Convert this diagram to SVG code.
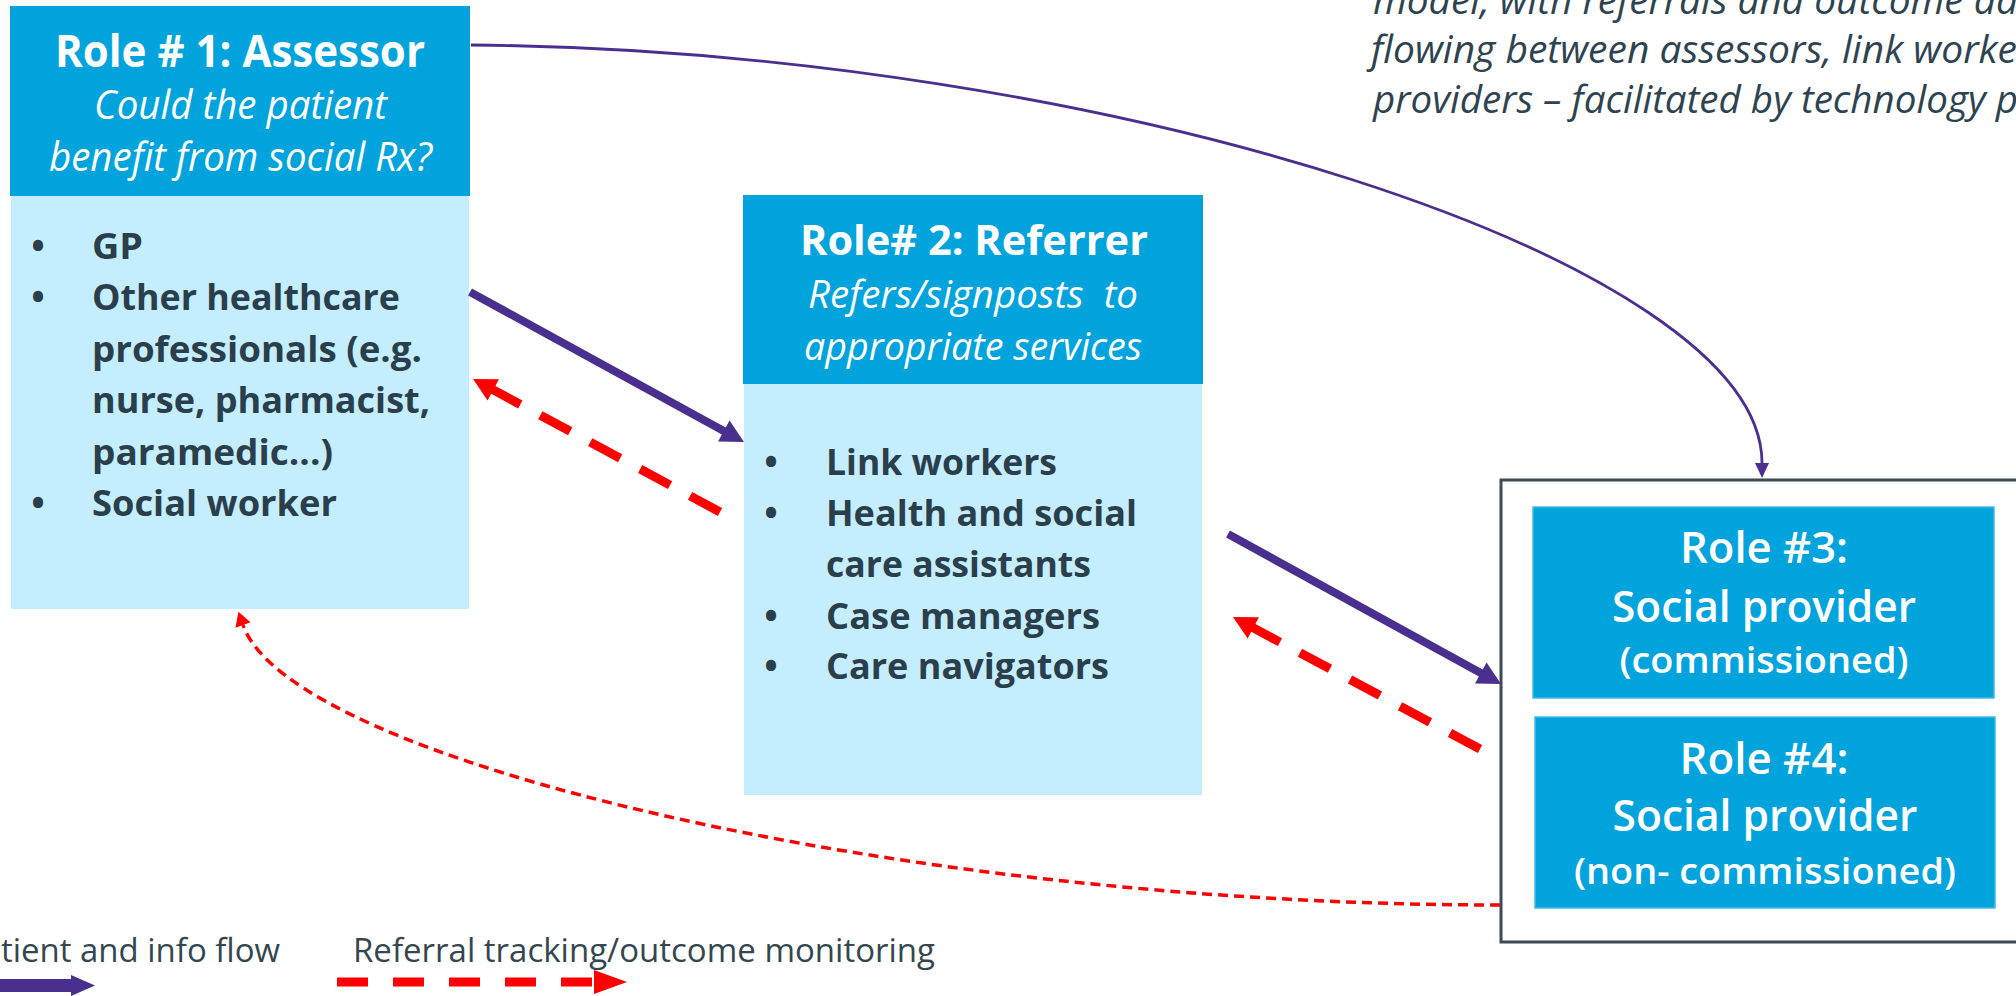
<svg xmlns="http://www.w3.org/2000/svg" width="2016" height="996" viewBox="0 0 2016 996">
  <style>
    .hdr { fill: #00a3dc; }
    .panel { fill: #c4eefd; }
    .prov { fill: #00a3dc; stroke: #45b9e6; stroke-width: 1.5; }
    .frame { fill: none; stroke: #3d4b55; stroke-width: 3; }
    .sans { font-family: "Open Sans", "Noto Sans", "Liberation Sans", sans-serif; }
    .title { font-weight: 700; fill: #ffffff; }
    .sub { font-style: italic; font-weight: 400; fill: #ffffff; }
    .item { font-weight: 700; fill: #2b3e4b; font-size: 36px; }
    .ptext { font-weight: 600; fill: #ffffff; }
    .note { font-style: italic; font-weight: 400; fill: #2e4350; font-size: 38px; }
    .legend { font-weight: 400; fill: #34464f; font-size: 32px; }
    .flow { fill: none; stroke: #4a2f8e; stroke-width: 8; }
    .track { fill: none; stroke: #ff0000; stroke-width: 9; stroke-dasharray: 34 22.7; }
    .flow-thin { fill: none; stroke: #4a2f8e; stroke-width: 2.8; }
    .track-thin { fill: none; stroke: #ff0000; stroke-width: 3.5; stroke-dasharray: 10 6; }
  </style>
  <defs>
    <marker id="headFlow" markerUnits="userSpaceOnUse" viewBox="0 0 23 24" markerWidth="23" markerHeight="24" refX="1" refY="12" orient="auto" overflow="visible">
      <path d="M0,0 L23,12 L0,24 z" fill="#4a2f8e"/>
    </marker>
    <marker id="headTrack" markerUnits="userSpaceOnUse" viewBox="0 0 23 24" markerWidth="23" markerHeight="24" refX="1" refY="12" orient="auto" overflow="visible">
      <path d="M0,0 L23,12 L0,24 z" fill="#ff0000"/>
    </marker>
    <marker id="headFlowThin" markerUnits="userSpaceOnUse" viewBox="0 0 15 14" markerWidth="15" markerHeight="14" refX="0" refY="7" orient="auto" overflow="visible">
      <path d="M0,0 L15,7 L0,14 z" fill="#4a2f8e"/>
    </marker>
    <marker id="headTrackThin" markerUnits="userSpaceOnUse" viewBox="0 0 14 16" markerWidth="14" markerHeight="16" refX="0" refY="8" orient="auto" overflow="visible">
      <path d="M0,0 L14,8 L0,16 z" fill="#ff0000"/>
    </marker>
  </defs>

  <rect width="2016" height="996" fill="#ffffff"/>

  <!-- explanatory note, top right (runs off the page edge) -->
  <g id="note" class="sans note">
    <text x="1373" y="14" textLength="645" lengthAdjust="spacingAndGlyphs">model, with referrals and outcome da</text>
    <text x="1371" y="63" textLength="646" lengthAdjust="spacingAndGlyphs">flowing between assessors, link worke</text>
    <text x="1373" y="113" textLength="645" lengthAdjust="spacingAndGlyphs">providers – facilitated by technology p</text>
  </g>

  <!-- Role 1: assessor -->
  <g id="node-assessor" class="sans">
    <rect class="panel" x="11" y="196" width="458" height="413"/>
    <rect class="hdr" x="10" y="6" width="460" height="190"/>
    <text class="title" x="240" y="67" font-size="44" text-anchor="middle" textLength="370" lengthAdjust="spacingAndGlyphs">Role # 1: Assessor</text>
    <text class="sub" x="240.5" y="119" font-size="40" text-anchor="middle" textLength="293" lengthAdjust="spacingAndGlyphs">Could the patient</text>
    <text class="sub" x="240.5" y="171" font-size="40" text-anchor="middle" textLength="383" lengthAdjust="spacingAndGlyphs">benefit from social Rx?</text>
    <g class="item">
      <text x="38" y="259" text-anchor="middle">•</text>
      <text x="92" y="259" textLength="51" lengthAdjust="spacingAndGlyphs">GP</text>
      <text x="38" y="310" text-anchor="middle">•</text>
      <text x="92" y="310" textLength="308" lengthAdjust="spacingAndGlyphs">Other healthcare</text>
      <text x="92" y="362" textLength="330" lengthAdjust="spacingAndGlyphs">professionals (e.g.</text>
      <text x="92" y="413" textLength="338" lengthAdjust="spacingAndGlyphs">nurse, pharmacist,</text>
      <text x="92" y="465" textLength="241" lengthAdjust="spacingAndGlyphs">paramedic...)</text>
      <text x="38" y="516" text-anchor="middle">•</text>
      <text x="92" y="516" textLength="245" lengthAdjust="spacingAndGlyphs">Social worker</text>
    </g>
  </g>

  <!-- Role 2: referrer -->
  <g id="node-referrer" class="sans">
    <rect class="panel" x="744" y="384" width="458" height="411"/>
    <rect class="hdr" x="743" y="195" width="460" height="189"/>
    <text class="title" x="974" y="255" font-size="42" text-anchor="middle" textLength="348" lengthAdjust="spacingAndGlyphs">Role# 2: Referrer</text>
    <text class="sub" x="973" y="308" font-size="38" text-anchor="middle" textLength="330" lengthAdjust="spacingAndGlyphs" xml:space="preserve">Refers/signposts  to</text>
    <text class="sub" x="973" y="360" font-size="38" text-anchor="middle" textLength="338" lengthAdjust="spacingAndGlyphs">appropriate services</text>
    <g class="item">
      <text x="771" y="475" text-anchor="middle">•</text>
      <text x="826" y="475" textLength="231" lengthAdjust="spacingAndGlyphs">Link workers</text>
      <text x="771" y="526" text-anchor="middle">•</text>
      <text x="826" y="526" textLength="311" lengthAdjust="spacingAndGlyphs">Health and social</text>
      <text x="826" y="577" textLength="265" lengthAdjust="spacingAndGlyphs">care assistants</text>
      <text x="771" y="629" text-anchor="middle">•</text>
      <text x="826" y="629" textLength="274" lengthAdjust="spacingAndGlyphs">Case managers</text>
      <text x="771" y="679" text-anchor="middle">•</text>
      <text x="826" y="679" textLength="283" lengthAdjust="spacingAndGlyphs">Care navigators</text>
    </g>
  </g>

  <!-- social providers container -->
  <g id="node-providers">
    <rect class="frame" x="1501" y="480" width="620" height="462"/>
  </g>

  <!-- Role 3: commissioned social provider -->
  <g id="node-provider-commissioned" class="sans">
    <rect class="prov" x="1533" y="507" width="461" height="191"/>
    <text class="ptext" x="1764" y="563" font-size="43" text-anchor="middle" textLength="168" lengthAdjust="spacingAndGlyphs">Role #3:</text>
    <text class="ptext" x="1764" y="622" font-size="43" text-anchor="middle" textLength="304" lengthAdjust="spacingAndGlyphs">Social provider</text>
    <text class="ptext" x="1764" y="673" font-size="36" text-anchor="middle" textLength="289" lengthAdjust="spacingAndGlyphs">(commissioned)</text>
  </g>

  <!-- Role 4: non-commissioned social provider -->
  <g id="node-provider-noncommissioned" class="sans">
    <rect class="prov" x="1535" y="717" width="460" height="191"/>
    <text class="ptext" x="1764" y="774" font-size="43" text-anchor="middle" textLength="169" lengthAdjust="spacingAndGlyphs">Role #4:</text>
    <text class="ptext" x="1765" y="831" font-size="43" text-anchor="middle" textLength="305" lengthAdjust="spacingAndGlyphs">Social provider</text>
    <text class="ptext" x="1765" y="884" font-size="36" text-anchor="middle" textLength="382" lengthAdjust="spacingAndGlyphs">(non- commissioned)</text>
  </g>

  <!-- connectors -->
  <g id="connectors">
    <path class="flow" d="M470,292 L724.7,431.4" marker-end="url(#headFlow)"/>
    <path class="track" d="M720,512 L492.4,389.4" marker-end="url(#headTrack)"/>
    <path class="flow" d="M1228,534 L1481.7,673.4" marker-end="url(#headFlow)"/>
    <path class="track" d="M1480,749 L1252.4,627.4" marker-end="url(#headTrack)"/>
    <path class="flow-thin" d="M471,45 C1100,50 1762,260 1762,463" marker-end="url(#headFlowThin)"/>
    <path class="track-thin" d="M1500,905 C900,905 290,760 243,625" marker-end="url(#headTrackThin)"/>
  </g>

  <!-- legend -->
  <g id="legend" class="sans legend">
    <text x="1" y="962" textLength="279" lengthAdjust="spacingAndGlyphs">tient and info flow</text>
    <path d="M0,979 L71,979 L71,975 L95,985.5 L71,996 L71,992 L0,992 z" fill="#4a2f8e"/>
    <text x="353" y="962" textLength="582" lengthAdjust="spacingAndGlyphs">Referral tracking/outcome monitoring</text>
    <path d="M337,982 L594,982" fill="none" stroke="#ff0000" stroke-width="9" stroke-dasharray="31 25"/>
    <path d="M594,970 L627,982 L594,994 z" fill="#ff0000"/>
  </g>
</svg>
